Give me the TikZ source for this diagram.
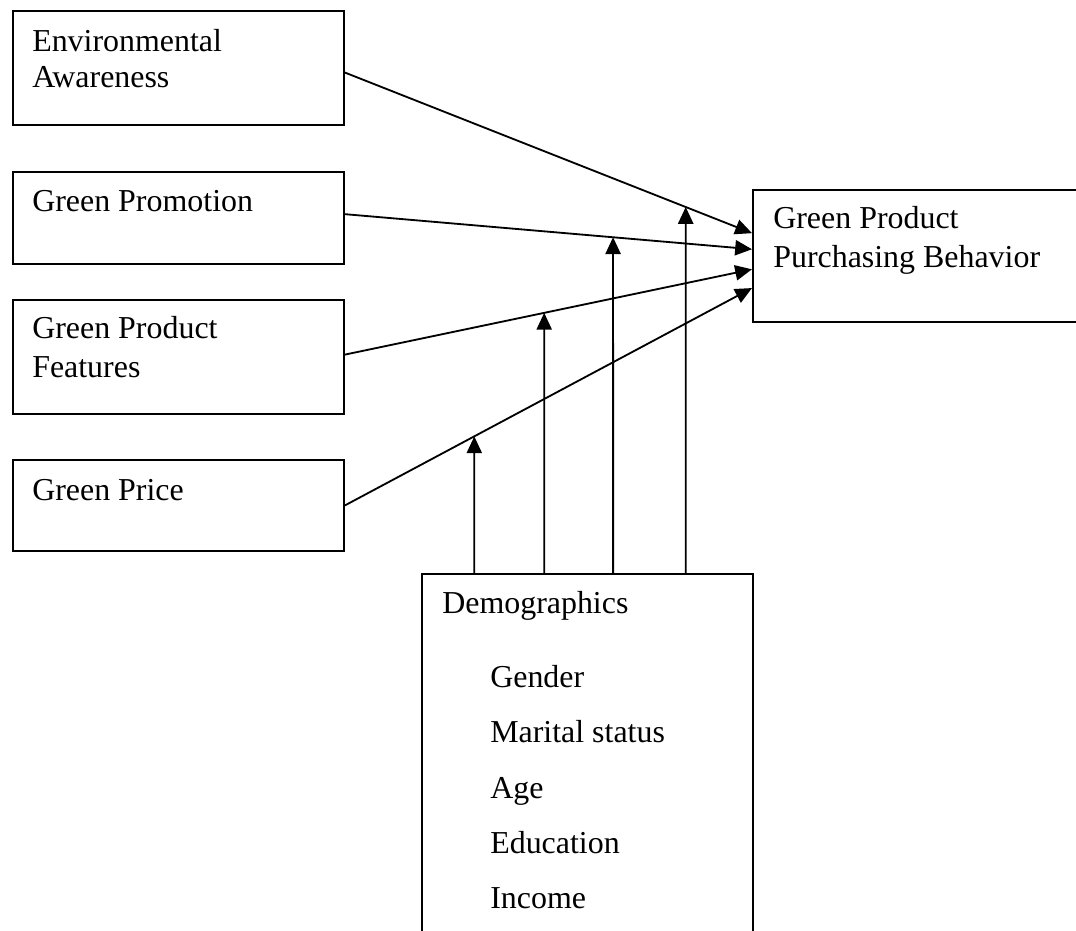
\documentclass[tikz,border=0pt]{standalone}
\usepackage{fontspec}
\setmainfont{Liberation Serif}
\usetikzlibrary{positioning, calc, arrows.meta}

\begin{document}
\begin{tikzpicture}[
    x=0.025cm, y=-0.025cm,
    box/.style={rectangle, draw, line width=1.3pt, anchor=north west, inner sep=0pt, minimum width=8.275cm},
    txt/.style={anchor=base west, inner sep=0pt, font=\fontsize{22.7}{36}\selectfont},
    arrow/.style={line width=1.3pt, -{Triangle[length=0.42cm, width=0.38cm]}}
]
    \useasboundingbox (0,0) rectangle (1076,931);
    \clip (0,0) rectangle (1076,931);

    % Boxes
    \node[box, minimum height=2.85cm] (aware) at (12,10) {};
    \node[box, minimum height=2.3cm] (promo) at (12,171) {};
    \node[box, minimum height=2.85cm] (feat) at (12,299) {};
    \node[box, minimum height=2.275cm] (price) at (12,459) {};
    \node[box, minimum width=9cm, minimum height=3.3cm] (behav) at (752,189) {};
    \node[box, minimum height=10cm] (demo) at (421,573) {};

    % Texts
    \node[txt] (aware-a) at (32,52) {Environmental};
    \node[txt] (aware-b) at (32,88) {Awareness};
    \node[txt] (promo-a) at (32,212) {Green Promotion};
    \node[txt] (feat-a) at (32,339) {Green Product};
    \node[txt] (feat-b) at (32,377) {Features};
    \node[txt] (price-a) at (32,500) {Green Price};
    \node[txt] (behav-a) at (773,229) {Green Product};
    \node[txt] (behav-b) at (773,268) {Purchasing Behavior};
    \node[txt] (demo-a) at (442,613) {Demographics};
    \node[txt] (gender) at (490,687) {Gender};
    \node[txt] (marital) at (490,742) {Marital status};
    \node[txt] (age) at (490,798) {Age};
    \node[txt] (edu) at (490,853) {Education};
    \node[txt] (income) at (490,908) {Income};

    % Connector ends
    \coordinate (aware-out) at ($(aware.north east)!0.54!(aware.south east)$);
    \coordinate (promo-out) at ($(promo.north east)!0.46!(promo.south east)$);
    \coordinate (feat-out) at ($(feat.north east)!0.48!(feat.south east)$);
    \coordinate (price-out) at ($(price.north east)!0.5!(price.south east)$);
    \coordinate (aware-in) at ($(behav.north west)!0.33!(behav.south west)$);
    \coordinate (promo-in) at ($(behav.north west)!0.45!(behav.south west)$);
    \coordinate (feat-in) at ($(behav.north west)!0.6!(behav.south west)$);
    \coordinate (price-in) at ($(behav.north west)!0.74!(behav.south west)$);
    \coordinate (mod-a) at ($(demo.north west)!0.16!(demo.north east)$);
    \coordinate (mod-b) at ($(demo.north west)!0.37!(demo.north east)$);
    \coordinate (mod-c) at ($(demo.north west)!0.577!(demo.north east)$);
    \coordinate (mod-d) at ($(demo.north west)!0.795!(demo.north east)$);

    % Connections
    \draw[arrow] (aware-out) -- (aware-in);
    \draw[arrow] (promo-out) -- (promo-in);
    \draw[arrow] (feat-out) -- (feat-in);
    \draw[arrow] (price-out) -- (price-in);

    % Moderating arrows from demographics
    \draw[arrow] (mod-a) -- (intersection of mod-a--{$(mod-a)+(0,-100)$} and price-out--price-in);
    \draw[arrow] (mod-b) -- (intersection of mod-b--{$(mod-b)+(0,-100)$} and feat-out--feat-in);
    \draw[arrow] (mod-c) -- (intersection of mod-c--{$(mod-c)+(0,-100)$} and promo-out--promo-in);
    \draw[arrow] (mod-d) -- (intersection of mod-d--{$(mod-d)+(0,-100)$} and aware-out--aware-in);
\end{tikzpicture}
\end{document}
